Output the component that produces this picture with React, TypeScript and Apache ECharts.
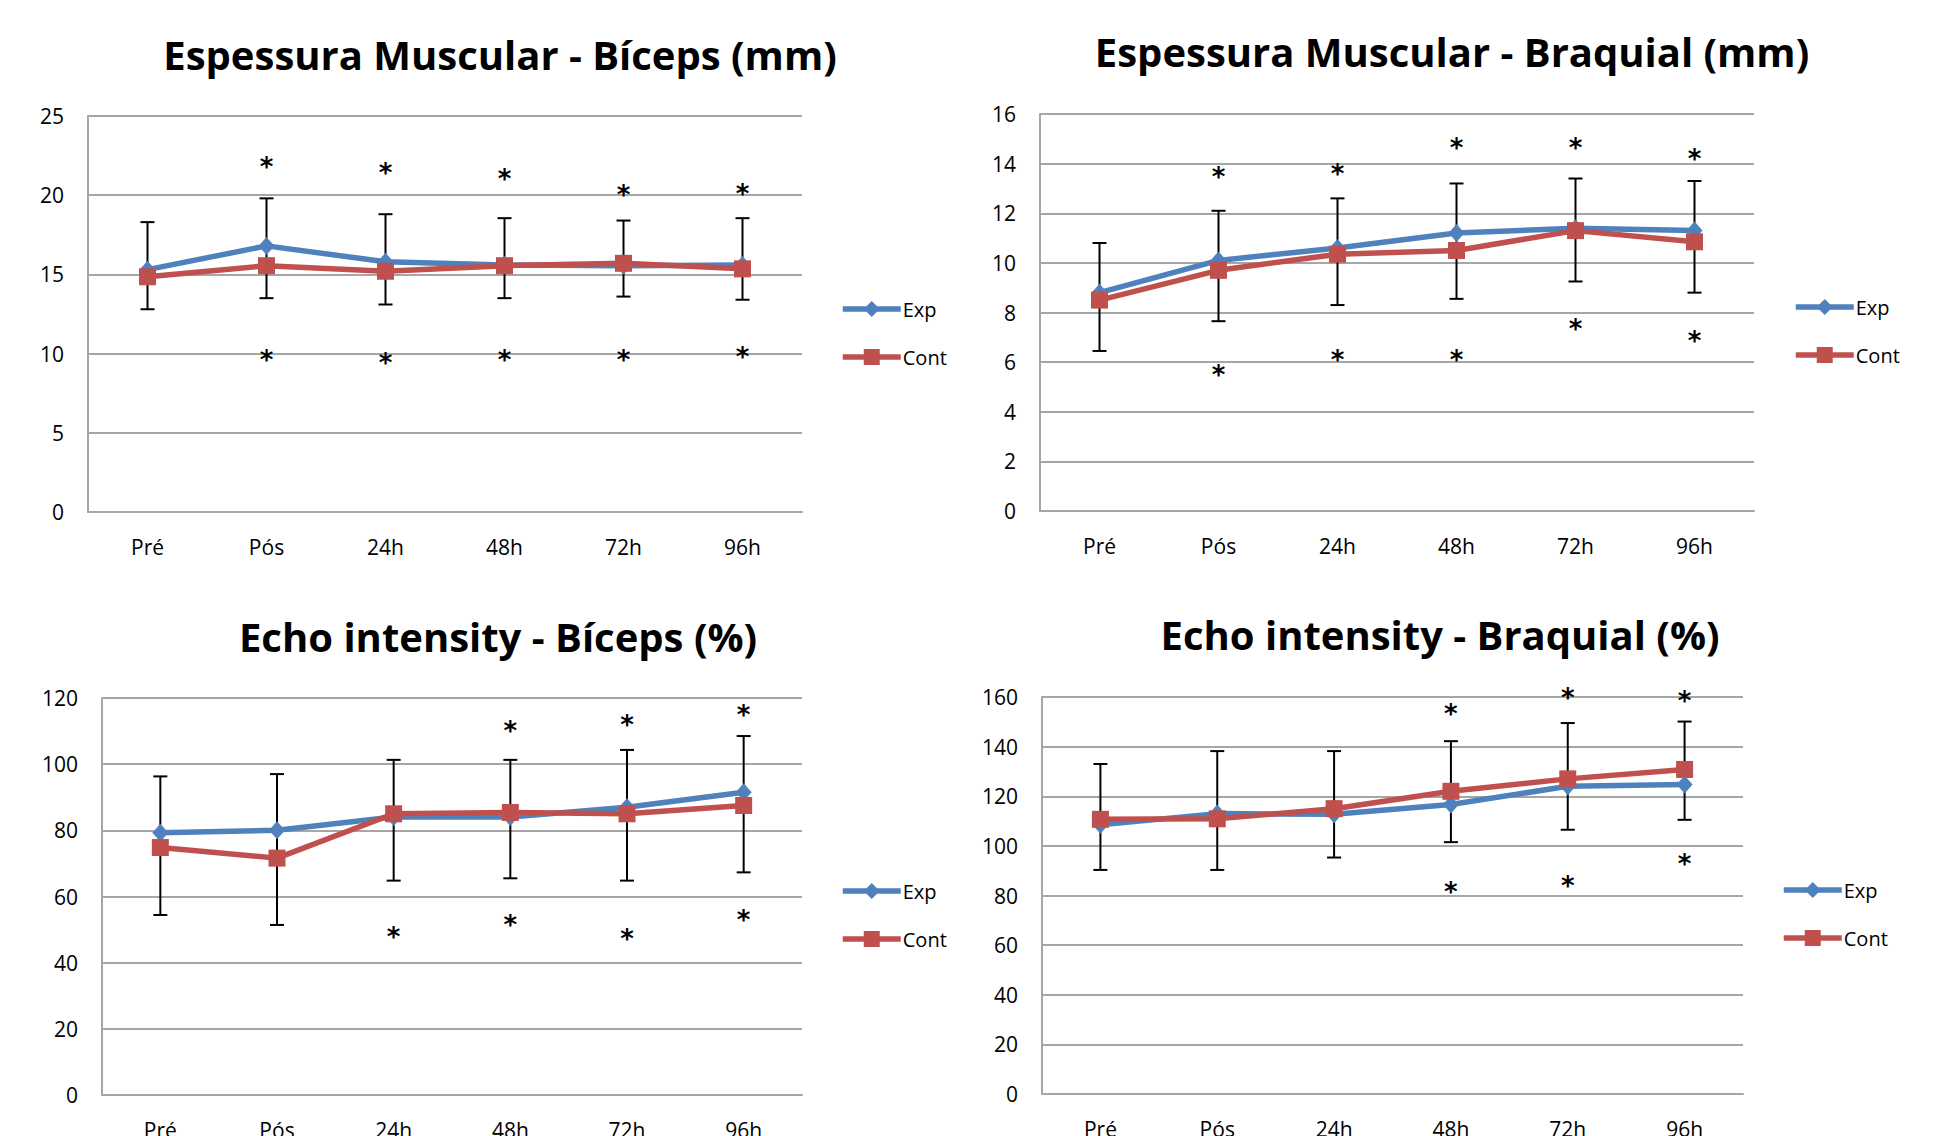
import React, { useEffect, useRef } from 'react';
import * as echarts from 'echarts';

const categories = ['Pré', 'Pós', '24h', '48h', '72h', '96h'];
const legendNames = ['Exp', 'Cont'];

const titles = [
  'Espessura Muscular - Bíceps (mm)',
  'Espessura Muscular - Braquial (mm)',
  'Echo intensity - Bíceps (%)',
  'Echo intensity - Braquial (%)',
];

// Chart 1: Espessura Muscular - Bíceps
const bicThickExp = [15.3, 16.8, 15.8, 15.6, 15.55, 15.6];
const bicThickCont = [14.85, 15.55, 15.2, 15.55, 15.7, 15.35];
const bicThickErrHigh = [18.3, 19.8, 18.8, 18.55, 18.4, 18.55];
const bicThickErrLow = [12.8, 13.5, 13.1, 13.5, 13.6, 13.4];
const bicThickStarHigh = [null, 22.1, 21.7, 21.35, 20.3, 20.4];
const bicThickStarLow = [null, 9.9, 9.7, 9.9, 9.9, 10.1];

// Chart 2: Espessura Muscular - Braquial
const braThickExp = [8.8, 10.1, 10.6, 11.2, 11.4, 11.3];
const braThickCont = [8.5, 9.7, 10.35, 10.5, 11.3, 10.85];
const braThickErrHigh = [10.8, 12.1, 12.6, 13.2, 13.4, 13.3];
const braThickErrLow = [6.45, 7.65, 8.3, 8.55, 9.25, 8.8];
const braThickStarHigh = [null, 13.65, 13.8, 14.85, 14.85, 14.4];
const braThickStarLow = [null, 5.7, 6.3, 6.3, 7.55, 7.05];

// Chart 3: Echo intensity - Bíceps
const bicEchoExp = [79.3, 80, 84, 84, 87, 91.5];
const bicEchoCont = [74.8, 71.6, 85, 85.4, 85, 87.5];
const bicEchoErrHigh = [96.3, 97, 101.3, 101.3, 104.3, 108.5];
const bicEchoErrLow = [54.4, 51.4, 64.8, 65.5, 64.8, 67.3];
const bicEchoStarHigh = [null, null, null, 111.5, 113.5, 116.4];
const bicEchoStarLow = [null, null, 49.2, 52.8, 48.6, 54.5];

// Chart 4: Echo intensity - Braquial
const braEchoExp = [108.5, 113, 112.7, 116.7, 124, 124.7];
const braEchoCont = [110.7, 110.9, 115, 122, 127, 130.8];
const braEchoErrHigh = [133, 138.2, 138.2, 142.2, 149.5, 150.1];
const braEchoErrLow = [90.3, 90.3, 95.3, 101.5, 106.5, 110.5];
const braEchoStarHigh = [null, null, null, 155, 161.6, 160.4];
const braEchoStarLow = [null, null, null, 83.4, 85.8, 94.7];

const yMax = [25, 16, 120, 160];
const yInterval = [5, 2, 20, 20];

const charts = [
  { exp: bicThickExp, cont: bicThickCont, hi: bicThickErrHigh, lo: bicThickErrLow, sHi: bicThickStarHigh, sLo: bicThickStarLow },
  { exp: braThickExp, cont: braThickCont, hi: braThickErrHigh, lo: braThickErrLow, sHi: braThickStarHigh, sLo: braThickStarLow },
  { exp: bicEchoExp, cont: bicEchoCont, hi: bicEchoErrHigh, lo: bicEchoErrLow, sHi: bicEchoStarHigh, sLo: bicEchoStarLow },
  { exp: braEchoExp, cont: braEchoCont, hi: braEchoErrHigh, lo: braEchoErrLow, sHi: braEchoStarHigh, sLo: braEchoStarLow },
];

// layout (pixels)
const gridBoxes = [
  { left: 88, top: 116, width: 714, height: 396 },
  { left: 1040, top: 114, width: 714, height: 397 },
  { left: 102, top: 698, width: 700, height: 397 },
  { left: 1042, top: 697, width: 701, height: 397 },
];
const titlePos = [
  { x: 500, y: 54 },
  { x: 1452, y: 51 },
  { x: 498, y: 636 },
  { x: 1440, y: 634 },
];
const legendPos = [
  { x: 840, y: 299 },
  { x: 1793, y: 297 },
  { x: 840, y: 881 },
  { x: 1781, y: 880 },
];

const BLUE = '#4F81BD';
const RED = '#C0504D';
const GRIDC = '#a6a6a6';
const FONT = 'Open Sans';

export default function App() {
  const ref = useRef<HTMLDivElement>(null);
  useEffect(() => {
    if (!ref.current) return;
    const chart = echarts.init(ref.current, undefined, { renderer: 'svg' });

    const grid: any[] = [];
    const xAxis: any[] = [];
    const yAxis: any[] = [];
    const series: any[] = [];
    const title: any[] = [];
    const legend: any[] = [];

    charts.forEach((c, i) => {
      grid.push({ ...gridBoxes[i], containLabel: false, outerBoundsMode: 'none' });
      xAxis.push({
        type: 'category',
        gridIndex: i,
        data: categories,
        boundaryGap: true,
        axisLine: { show: true, lineStyle: { color: GRIDC, width: 2 } },
        axisTick: { show: false },
        axisLabel: { margin: 24, fontFamily: FONT, fontSize: 21, color: '#000' },
        splitLine: { show: false },
      });
      yAxis.push({
        type: 'value',
        gridIndex: i,
        min: 0,
        max: yMax[i],
        interval: yInterval[i],
        axisLine: { show: true, lineStyle: { color: GRIDC, width: 2 } },
        axisTick: { show: false },
        axisLabel: { margin: 24, fontFamily: FONT, fontSize: 21, color: '#000' },
        splitLine: { show: true, lineStyle: { color: GRIDC, width: 2 } },
      });
      title.push({
        text: titles[i],
        left: titlePos[i].x,
        top: titlePos[i].y,
        textAlign: 'center',
        textVerticalAlign: 'middle',
        padding: 0,
        textStyle: { fontFamily: FONT, fontWeight: 'bold', fontSize: 40, color: '#000' },
      });
      legend.push({
        orient: 'vertical',
        left: legendPos[i].x,
        top: legendPos[i].y,
        padding: 0,
        itemWidth: 58,
        itemHeight: 20,
        itemGap: 28,
        selectedMode: false,
        data: legendNames,
        lineStyle: { width: 5.5 },
        textStyle: { fontFamily: FONT, fontSize: 20, color: '#000', padding: [0, 0, 0, -3] },
      });

      const errData = categories.map((_, k) => [k, c.lo[k], c.hi[k]]);
      series.push({
        type: 'custom',
        xAxisIndex: i,
        yAxisIndex: i,
        z: 1,
        silent: true,
        data: errData,
        encode: { x: 0, y: [1, 2] },
        renderItem: (params: any, api: any) => {
          const x = api.value(0);
          const pLo = api.coord([x, api.value(1)]);
          const pHi = api.coord([x, api.value(2)]);
          const w = 7;
          const st = { stroke: '#000', lineWidth: 2 };
          return {
            type: 'group',
            children: [
              { type: 'line', shape: { x1: pHi[0], y1: pHi[1], x2: pLo[0], y2: pLo[1] }, style: st },
              { type: 'line', shape: { x1: pHi[0] - w, y1: pHi[1], x2: pHi[0] + w, y2: pHi[1] }, style: st },
              { type: 'line', shape: { x1: pLo[0] - w, y1: pLo[1], x2: pLo[0] + w, y2: pLo[1] }, style: st },
            ],
          };
        },
      });
      series.push({
        name: 'Exp',
        type: 'line',
        xAxisIndex: i,
        yAxisIndex: i,
        z: 3,
        data: c.exp,
        symbol: 'diamond',
        symbolSize: [16, 18],
        lineStyle: { color: BLUE, width: 5.5 },
        itemStyle: { color: BLUE },
      });
      series.push({
        name: 'Cont',
        type: 'line',
        xAxisIndex: i,
        yAxisIndex: i,
        z: 4,
        data: c.cont,
        symbol: 'rect',
        symbolSize: 17,
        lineStyle: { color: RED, width: 5.5 },
        itemStyle: { color: RED },
      });
      const starData: any[] = [];
      c.sHi.forEach((v, k) => { if (v != null) starData.push([k, v]); });
      c.sLo.forEach((v, k) => { if (v != null) starData.push([k, v]); });
      series.push({
        type: 'custom',
        xAxisIndex: i,
        yAxisIndex: i,
        z: 5,
        silent: true,
        data: starData,
        encode: { x: 0, y: 1 },
        renderItem: (params: any, api: any) => {
          const p = api.coord([api.value(0), api.value(1)]);
          return {
            type: 'text',
            x: p[0],
            y: p[1] + 5,
            style: {
              text: '*',
              fontFamily: 'DejaVu Sans',
              fontWeight: 'bold',
              fontSize: 26,
              fill: '#000',
              align: 'center',
              verticalAlign: 'middle',
            },
          };
        },
      });
    });

    chart.setOption({
      animation: false,
      backgroundColor: '#fff',
      title,
      legend,
      grid,
      xAxis,
      yAxis,
      series,
    });
    return () => chart.dispose();
  }, []);
  return (
    <div
      ref={ref}
      style={{ position: 'fixed', left: 0, top: 0, width: 1941, height: 1136, background: '#fff' }}
    />
  );
}
